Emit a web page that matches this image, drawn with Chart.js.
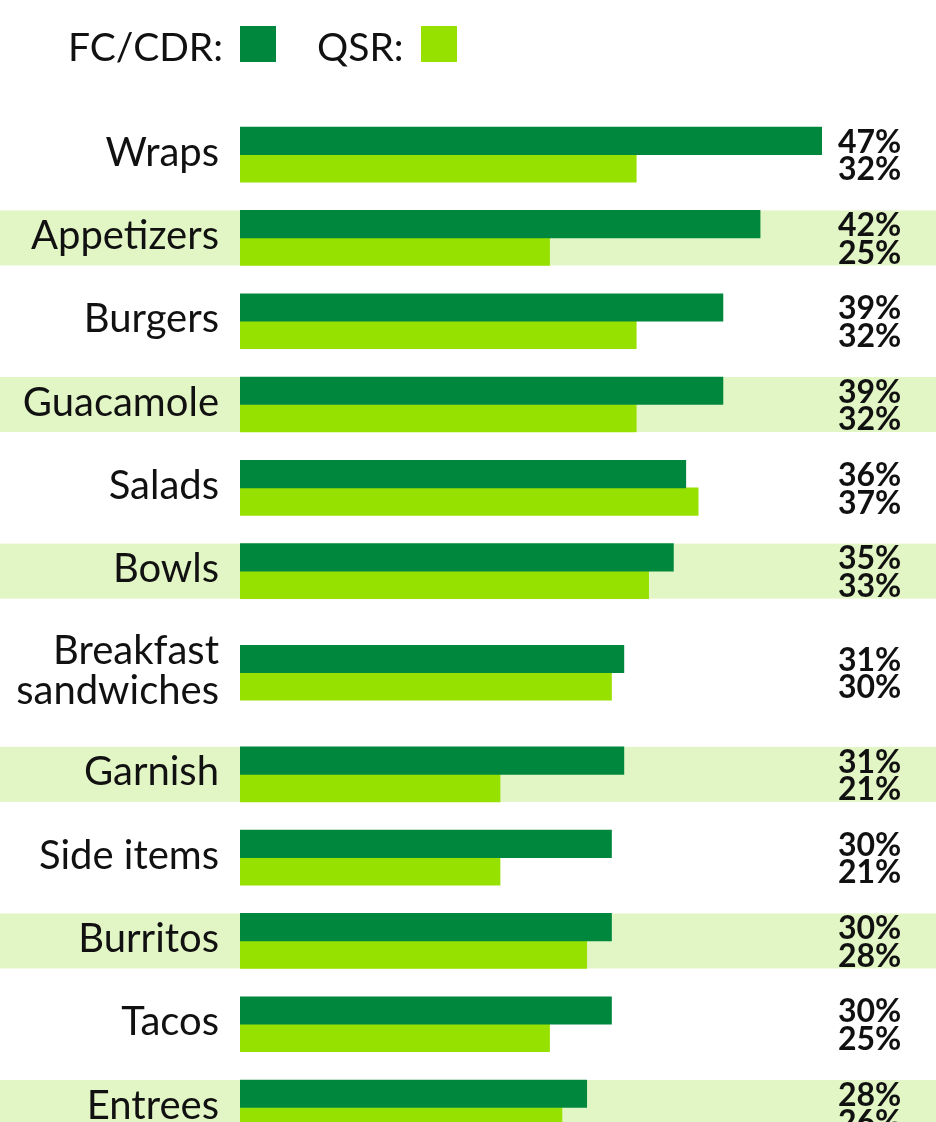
<!DOCTYPE html>
<html>
<head>
<meta charset="utf-8">
<script src="https://cdn.jsdelivr.net/npm/chart.js@4/dist/chart.umd.min.js"></script>
<style>
  html, body { margin: 0; padding: 0; background: #fff; overflow: hidden; }
  #wrap { position: relative; width: 936px; height: 1150px; }
  .legend { position: absolute; top: 0; left: 0; font: 39px/39px Lato, sans-serif; color: #111; }
  .legend span { position: absolute; white-space: nowrap; top: 27px; }
  .legend i { position: absolute; width: 36px; height: 36px; top: 26px; }
</style>
</head>
<body>
<div id="wrap">
  <div class="legend">
    <span style="left:68px">FC/CDR:</span><i style="left:240px;background:#00873e"></i>
    <span style="left:317px">QSR:</span><i style="left:421px;background:#97e100"></i>
  </div>
  <canvas id="chart"></canvas>
</div>
<script>
// ── Data ──────────────────────────────────────────────────────────────────
const categories = [
  'Wraps', 'Appetizers', 'Burgers', 'Guacamole', 'Salads', 'Bowls',
  ['Breakfast', 'sandwiches'], 'Garnish', 'Side items', 'Burritos', 'Tacos', 'Entrees',
];
const fcCdr = [47, 42, 39, 39, 36, 35, 31, 31, 30, 30, 30, 28];
const qsr   = [32, 25, 32, 32, 37, 33, 30, 21, 21, 28, 25, 26];

const DARK  = '#00873e';
const LIGHT = '#97e100';
const BAND  = '#e2f5c4';
const INK   = '#111';

// row positions: two-line labels get a little more room
const _lines = c => Array.isArray(c) ? c : [c];
const rowPos = [];
categories.forEach((c, i) => {
  if (i === 0) { rowPos.push(0); return; }
  const extra = (_lines(c).length > 1 ? 0.22 : 0) + (_lines(categories[i - 1]).length > 1 ? 0.22 : 0);
  rowPos.push(rowPos[i - 1] + 1 + extra);
});

// ── Plugins ───────────────────────────────────────────────────────────────

// light green bands behind every other row, full canvas width
const bands = {
  id: 'bands',
  beforeDraw(chart) {
    const { ctx, scales: { y } } = chart;
    ctx.save();
    ctx.fillStyle = BAND;
    rowPos.forEach((p, i) => {
      if (i % 2 === 0) return;
      const c = y.getPixelForValue(p);
      ctx.fillRect(0, c - 27.5, chart.width, 55);
    });
    ctx.restore();
  },
};

// category names, right-aligned left of the bars
const rowLabels = {
  id: 'rowLabels',
  afterDraw(chart) {
    const { ctx, chartArea, scales: { y } } = chart;
    ctx.save();
    ctx.font = '40px Lato, sans-serif';
    ctx.fillStyle = INK;
    ctx.textAlign = 'right';
    ctx.textBaseline = 'alphabetic';
    categories.forEach((c, i) => {
      const lines = _lines(c);
      const mid = y.getPixelForValue(rowPos[i]);
      lines.forEach((t, j) => {
        ctx.fillText(t, chartArea.left - 21, mid + 11 + (j - (lines.length - 1) / 2) * 40);
      });
    });
    ctx.restore();
  },
};

// percentages to the right of the chart area
const valueLabels = {
  id: 'valueLabels',
  afterDatasetsDraw(chart) {
    const { ctx, chartArea } = chart;
    ctx.save();
    ctx.font = 'bold 32px Lato, sans-serif';
    ctx.fillStyle = INK;
    ctx.textAlign = 'left';
    ctx.textBaseline = 'alphabetic';
    chart.data.datasets.forEach((ds, di) => {
      chart.getDatasetMeta(di).data.forEach((el, i) => {
        ctx.fillText(`${ds.raw[i]}%`, chartArea.right + 16, el.y + 12);
      });
    });
    ctx.restore();
  },
};

// ── Chart ─────────────────────────────────────────────────────────────────
const canvas = document.getElementById('chart');
canvas.width = 936;
canvas.height = 1150;

new Chart(canvas, {
  type: 'bar',
  data: {
    datasets: [
      { label: 'FC/CDR', raw: fcCdr, data: fcCdr.map((v, i) => ({ x: v, y: rowPos[i] })), backgroundColor: DARK },
      { label: 'QSR',    raw: qsr,   data: qsr.map((v, i) => ({ x: v, y: rowPos[i] })),   backgroundColor: LIGHT },
    ],
  },
  options: {
    indexAxis: 'y',
    responsive: false,
    animation: false,
    layout: { padding: { top: 113, right: 114, bottom: 0, left: 240 } },
    datasets: { bar: { barThickness: 27.5, borderWidth: 0 } },
    plugins: { legend: { display: false }, tooltip: { enabled: false } },
    scales: {
      x: { type: 'linear', display: false, min: 0, max: 47 },
      y: { type: 'linear', display: false, offset: false, reverse: true, min: -0.5, max: 11.95 },
    },
  },
  plugins: [bands, rowLabels, valueLabels],
});
</script>
</body>
</html>
